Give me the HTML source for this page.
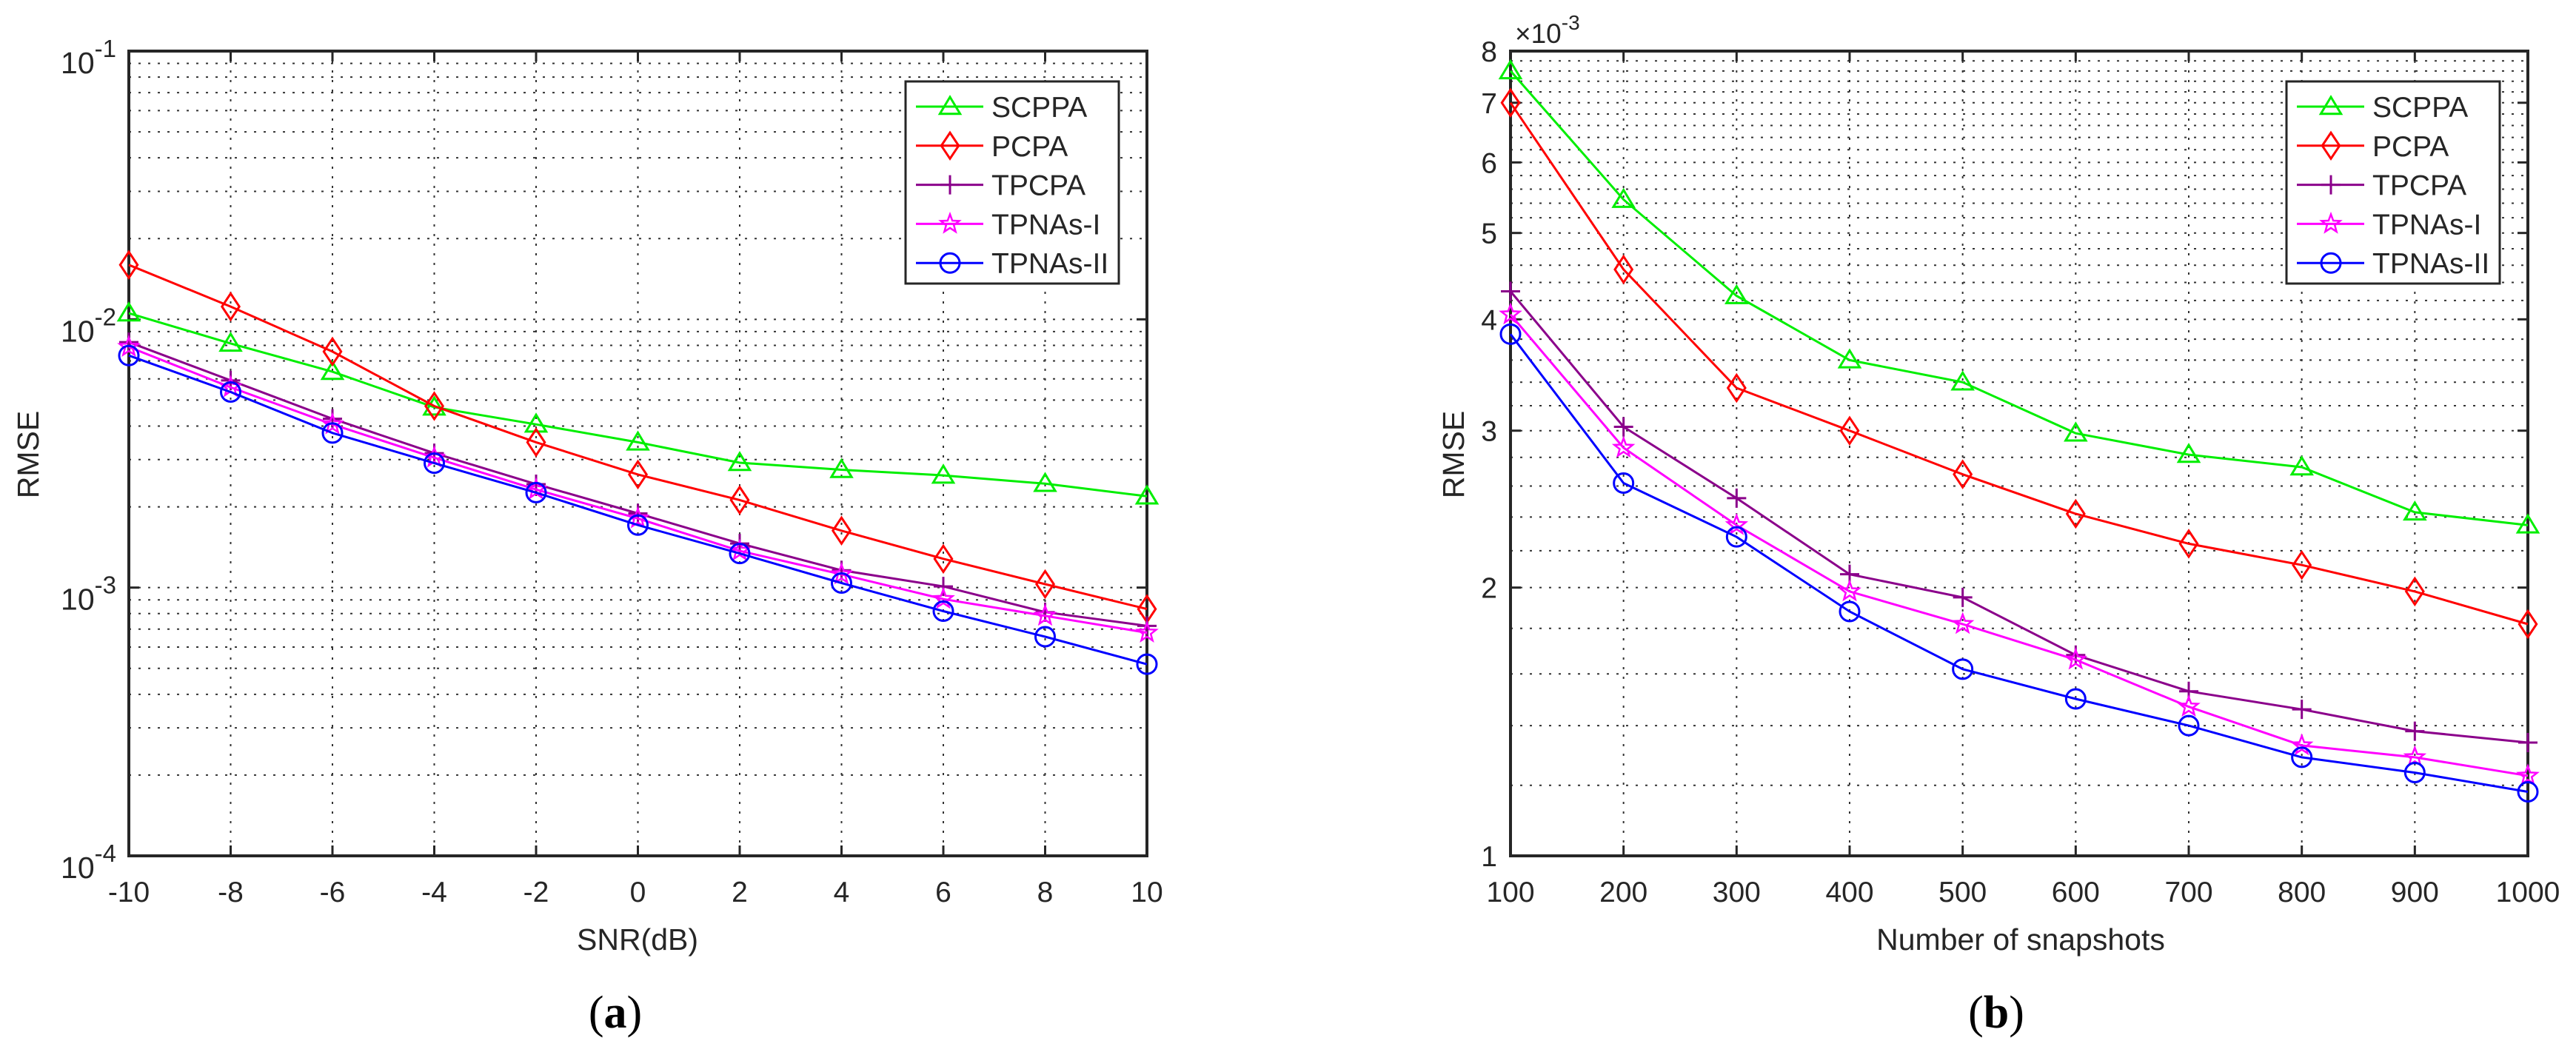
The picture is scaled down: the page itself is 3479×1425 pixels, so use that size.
<!DOCTYPE html>
<html><head><meta charset="utf-8"><style>
html,body{margin:0;padding:0;background:#fff;}
svg{display:block;font-family:"Liberation Sans",Arial,sans-serif;}
</style></head><body>
<svg id="fig" width="3479" height="1425" viewBox="0 0 3479 1425" xmlns="http://www.w3.org/2000/svg"></svg>
<script>
const seriesNames = ["SCPPA","PCPA","TPCPA","TPNAs-I","TPNAs-II"];
const seriesColors = ["#00ee00","#ff0000","#8b008b","#ff00ff","#0000ff"];
const seriesMarkers = ["tri","dia","plus","star","circ"];

const snrCategories = [-10,-8,-6,-4,-2,0,2,4,6,8,10];
const snrScppa = [0.01054,0.00813,0.00638,0.00470,0.00406,0.00348,0.00292,0.00275,0.00262,0.00244,0.00219];
const snrPcpa = [0.01596,0.01116,0.00758,0.00475,0.00348,0.00264,0.00212,0.00163,0.00128,0.00103,0.000832];
const snrTpcpa = [0.00822,0.00592,0.00426,0.00317,0.00243,0.00189,0.00146,0.00116,0.00101,0.00081,0.00072];
const snrTpnas1 = [0.00789,0.00558,0.00406,0.00305,0.00232,0.00181,0.00137,0.00112,0.000906,0.000785,0.000679];
const snrTpnas2 = [0.00733,0.00536,0.00377,0.00291,0.00226,0.00171,0.00134,0.00104,0.000817,0.000656,0.000518];

const snapCategories = [100,200,300,400,500,600,700,800,900,1000];
const snapScppa = [7.6,5.45,4.25,3.6,3.4,2.98,2.82,2.73,2.43,2.35];
const snapPcpa = [7.0,4.55,3.35,3.0,2.68,2.42,2.24,2.12,1.98,1.82];
const snapTpcpa = [4.3,3.03,2.52,2.07,1.95,1.68,1.53,1.46,1.38,1.34];
const snapTpnas1 = [4.05,2.87,2.35,1.98,1.82,1.66,1.47,1.33,1.29,1.23];
const snapTpnas2 = [3.85,2.62,2.28,1.88,1.62,1.50,1.40,1.29,1.24,1.18];

const leftYTickExps = [-1,-2,-3,-4];
const rightYTicks = [1,2,3,4,5,6,7,8];

const NS="http://www.w3.org/2000/svg";
const svg=document.getElementById('fig');
function mk(tag,attrs,parent){const e=document.createElementNS(NS,tag);for(const k in attrs)e.setAttribute(k,attrs[k]);(parent||svg).appendChild(e);return e;}

function marker(g,type,x,y,color){
  const r=13;let e;
  if(type==="tri"){e=mk('polygon',{points:`${x},${y-r} ${x-r*1.05},${y+r*0.75} ${x+r*1.05},${y+r*0.75}`,fill:'none',stroke:color,'stroke-width':3},g);}
  else if(type==="dia"){e=mk('polygon',{points:`${x},${y-r*1.35} ${x+r*0.9},${y} ${x},${y+r*1.35} ${x-r*0.9},${y}`,fill:'none',stroke:color,'stroke-width':3},g);}
  else if(type==="plus"){e=mk('path',{d:`M${x-r} ${y}H${x+r}M${x} ${y-r}V${y+r}`,fill:'none',stroke:color,'stroke-width':3},g);}
  else if(type==="star"){let p=[];for(let i=0;i<10;i++){const a=-Math.PI/2+i*Math.PI/5;const rr=i%2?r*0.42:r;p.push((x+rr*Math.cos(a)).toFixed(1)+','+(y+rr*Math.sin(a)).toFixed(1));}e=mk('polygon',{points:p.join(' '),fill:'none',stroke:color,'stroke-width':2.5},g);}
  else {e=mk('circle',{cx:x,cy:y,r:r,fill:'none',stroke:color,'stroke-width':3},g);}
  
  
}

function panel(opt){
  const g=mk('g',{});
  
  
  const {L,R,T,B}=opt;
  const xs=v=>L+(v-opt.xmin)/(opt.xmax-opt.xmin)*(R-L);
  const ys=v=>B-(Math.log10(v)-Math.log10(opt.ymin))/(Math.log10(opt.ymax)-Math.log10(opt.ymin))*(B-T);
  // grid
  const grid=mk('g',{stroke:'#333','stroke-width':2,'stroke-dasharray':'3,10',fill:'none'},g);
  
  
  opt.gridY.forEach(v=>{const y=ys(v);if(y>T+2&&y<B-2)mk('line',{x1:L,x2:R,y1:y,y2:y},grid);});
  opt.xcats.forEach(v=>{const x=xs(v);if(x>L+2&&x<R-2)mk('line',{x1:x,x2:x,y1:T,y2:B},grid);});
  // axes box
  const box=mk('rect',{x:L,y:T,width:R-L,height:B-T,fill:'none',stroke:'#262626','stroke-width':4},g);
  
  
  // ticks
  const tk=mk('g',{stroke:'#262626','stroke-width':3},g);
  opt.xcats.forEach(v=>{const x=xs(v);mk('line',{x1:x,x2:x,y1:B,y2:B-14},tk);mk('line',{x1:x,x2:x,y1:T,y2:T+14},tk);});
  opt.majorY.forEach(v=>{const y=ys(v);mk('line',{x1:L,x2:L+14,y1:y,y2:y},tk);mk('line',{x1:R,x2:R-14,y1:y,y2:y},tk);});
  // x tick labels
  opt.xcats.forEach(v=>{const t=mk('text',{x:xs(v),y:B+62,'font-size':39,'text-anchor':'middle',fill:'#262626'},g);t.textContent=String(v);
    
    });
  opt.yLabels(g,ys);
  // axis titles
  const xt=mk('text',{x:opt.xTitleX,y:1283,'font-size':41,'text-anchor':'middle',fill:'#262626'},g);xt.textContent=opt.xTitle;
  
  
  const yt=mk('text',{x:0,y:0,'font-size':41,'text-anchor':'middle',fill:'#262626',transform:`translate(${opt.yTitleX},614) rotate(-90)`},g);yt.textContent='RMSE';
  
  
  const cap=mk('text',{x:opt.capX,y:1388,'font-size':62,'text-anchor':'middle',fill:'#000','font-family':'Liberation Serif, serif'},g);
  cap.innerHTML='(<tspan font-weight="bold">'+opt.cap+'</tspan>)';
  
  
  // series
  opt.series.forEach((vals,i)=>{
    const sg=mk('g',{},g);
    
    
    const pts=vals.map((v,j)=>xs(opt.xcats[j]).toFixed(1)+','+ys(v).toFixed(1)).join(' ');
    const pl=mk('polyline',{points:pts,fill:'none',stroke:seriesColors[i],'stroke-width':3},sg);
    
    
    vals.forEach((v,j)=>marker(sg,seriesMarkers[i],xs(opt.xcats[j]),ys(v),seriesColors[i]));
  });
  // legend
  const lg=mk('g',{},g);
  
  
  const lx=opt.legX;
  mk('rect',{x:lx,y:110,width:288,height:273,fill:'#fff',stroke:'#262626','stroke-width':3},lg);
  seriesNames.forEach((n,i)=>{
    const y=144+i*52.8;
    const en=mk('g',{},lg);
    
    
    mk('line',{x1:lx+14,x2:lx+105,y1:y,y2:y,stroke:seriesColors[i],'stroke-width':3},en);
    marker(en,seriesMarkers[i],lx+60,y,seriesColors[i]);
    const t=mk('text',{x:lx+116,y:y+14,'font-size':39,fill:'#262626'},en);t.textContent=n;
  });
}

const leftMinor=[];for(let e=-4;e<-1;e++)for(let m=1;m<10;m++)leftMinor.push(m*Math.pow(10,e));
panel({name:'panel-a',L:174,R:1549,T:69,B:1156,xmin:-10,xmax:10,ymin:1e-4,ymax:1e-1,
  xcats:snrCategories,gridY:leftMinor,majorY:[1e-4,1e-3,1e-2,1e-1],
  series:[snrScppa,snrPcpa,snrTpcpa,snrTpnas1,snrTpnas2],
  xTitle:'SNR(dB)',xTitleX:861,yTitleX:52,capX:831,cap:'a',legX:1223,
  yLabels:(g,ys)=>{leftYTickExps.forEach(e=>{const y=ys(Math.pow(10,e));const t=mk('text',{x:157,y:y+30,'font-size':41,'text-anchor':'end',fill:'#262626'},g);
    t.innerHTML='10<tspan dy="-22" font-size="33">'+e+'</tspan>';
    
    });}
});
const rightMinor=[];for(let v=1;v<8.01;v+=0.2)rightMinor.push(+v.toFixed(1));
panel({name:'panel-b',L:2040,R:3414,T:69,B:1156,xmin:100,xmax:1000,ymin:1,ymax:8,
  xcats:snapCategories,gridY:rightMinor,majorY:rightYTicks,
  series:[snapScppa,snapPcpa,snapTpcpa,snapTpnas1,snapTpnas2],
  xTitle:'Number of snapshots',xTitleX:2729,yTitleX:1977,capX:2696,cap:'b',legX:3088,
  yLabels:(g,ys)=>{rightYTicks.forEach(v=>{const t=mk('text',{x:2022,y:ys(v)+14,'font-size':39,'text-anchor':'end',fill:'#262626'},g);t.textContent=String(v);
    
    });
    const m=mk('text',{x:2046,y:58,'font-size':37,fill:'#262626'},g);m.innerHTML='×10<tspan dy="-18" font-size="28">-3</tspan>';
    
    }
});
</script>
</body></html>
